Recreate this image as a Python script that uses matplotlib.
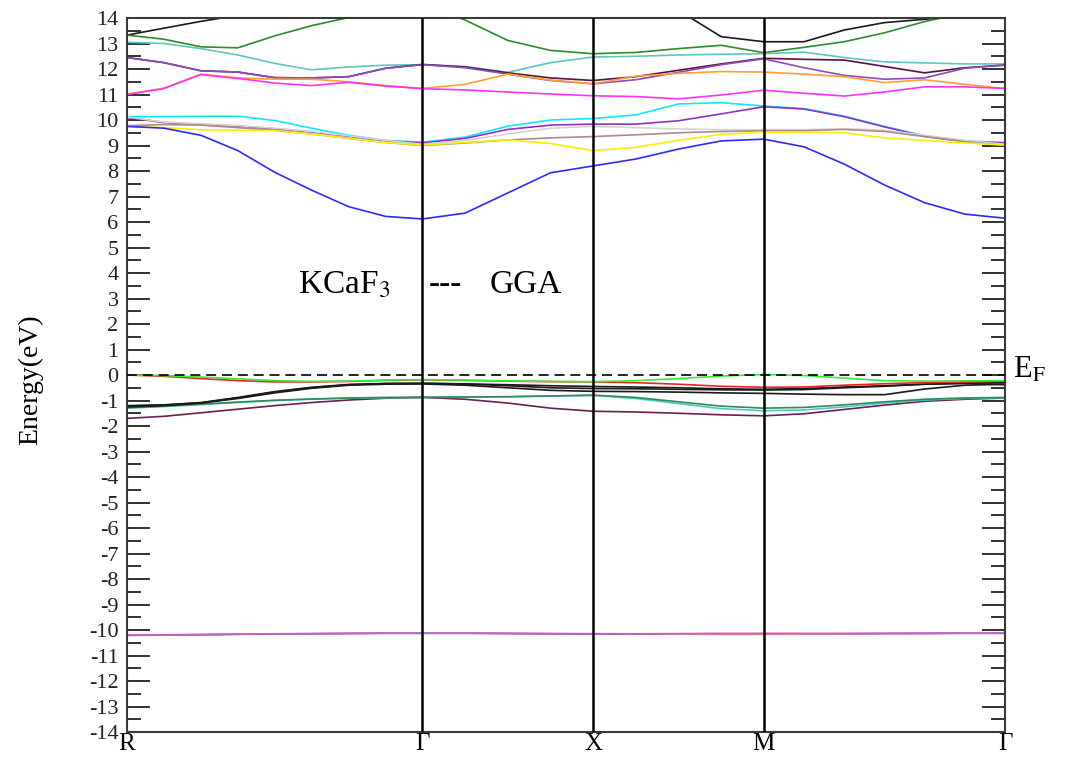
import matplotlib
matplotlib.use("Agg")
import matplotlib.pyplot as plt
from matplotlib.ticker import MultipleLocator

plt.rcParams["font.family"] = "serif"
plt.rcParams["font.serif"] = ["Liberation Serif", "DejaVu Serif"]
plt.rcParams["mathtext.fontset"] = "stix"

# high-symmetry path R-G-X-M-G (units of 2pi/a)
K_NODES = [0.0, 0.866, 1.366, 1.866, 2.573]
K_LABELS = ["R", "Γ", "X", "M", "Γ"]

# k sampling along the path
K = [0.0, 0.108, 0.217, 0.325, 0.433, 0.541, 0.650, 0.758, 0.866,
     0.991, 1.116, 1.241, 1.366,
     1.491, 1.616, 1.741, 1.866,
     1.984, 2.102, 2.220, 2.337, 2.455, 2.573]

# ── conduction bands (eV) ──────────────────────────────────────────────
blue = [9.75, 9.68, 9.4, 8.8, 7.95, 7.25, 6.6, 6.22, 6.12,
        6.35, 7.14, 7.93, 8.2,
        8.47, 8.86, 9.18, 9.25,
        8.95, 8.27, 7.45, 6.76, 6.31, 6.15]
yellow = [9.75, 9.7, 9.62, 9.6, 9.58, 9.45, 9.28, 9.12, 9.02,
          9.12, 9.22, 9.08, 8.8,
          8.93, 9.2, 9.44, 9.52,
          9.52, 9.5, 9.3, 9.2, 9.1, 9.02]
brown = [9.78, 9.82, 9.8, 9.7, 9.6, 9.45, 9.28, 9.12, 9.0,
         9.1, 9.22, 9.3, 9.35,
         9.42, 9.5, 9.55, 9.58,
         9.58, 9.63, 9.55, 9.35, 9.15, 9.0]
grey = [10.12, 9.92, 9.85, 9.78, 9.68, 9.55, 9.38, 9.2, 9.05,
        9.2, 9.45, 9.68, 9.75,
        9.7, 9.65, 9.62, 9.62,
        9.62, 9.66, 9.6, 9.4, 9.2, 9.05]
orchid = [10.1, 9.9, 9.83, 9.76, 9.66, 9.53, 9.36, 9.18, 9.1,
          9.28, 9.63, 9.8, 9.84,
          9.84, 9.97, 10.24, 10.52,
          10.43, 10.13, 9.73, 9.36, 9.16, 9.1]
cyan = [10.13, 10.13, 10.15, 10.15, 9.98, 9.68, 9.4, 9.2, 9.13,
        9.33, 9.76, 10.0, 10.06,
        10.2, 10.63, 10.68, 10.55,
        10.45, 10.15, 9.75, 9.38, 9.18, 9.12]
orange = [11.02, 11.25, 11.8, 11.65, 11.6, 11.6, 11.5, 11.35, 11.24,
          11.4, 11.8, 11.57, 11.42,
          11.72, 11.83, 11.9, 11.88,
          11.8, 11.7, 11.47, 11.58, 11.4, 11.23]
magenta = [11.0, 11.23, 11.78, 11.63, 11.45, 11.35, 11.48, 11.33, 11.23,
           11.18, 11.1, 11.02, 10.95,
           10.92, 10.83, 10.98, 11.17,
           11.05, 10.94, 11.1, 11.3, 11.3, 11.24]
maroon = [12.45, 12.25, 11.93, 11.88, 11.66, 11.65, 11.7, 12.03, 12.18,
          12.08, 11.85, 11.65, 11.55,
          11.7, 11.95, 12.2, 12.42,
          12.38, 12.35, 12.1, 11.85, 12.05, 12.15]
violet = [12.45, 12.25, 11.93, 11.88, 11.66, 11.65, 11.7, 12.03, 12.17,
          12.05, 11.8, 11.55, 11.42,
          11.58, 11.87, 12.17, 12.4,
          12.05, 11.75, 11.6, 11.65, 12.03, 12.16]
teal = [13.05, 13.0, 12.8, 12.55, 12.22, 11.97, 12.08, 12.15, 12.17,
        12.1, 11.87, 12.25, 12.47,
        12.5, 12.55, 12.58, 12.6,
        12.66, 12.45, 12.28, 12.24, 12.2, 12.2]
green = [13.33, 13.17, 12.87, 12.83, 13.3, 13.7, 14.02, 14.3, 14.55,
         13.92, 13.12, 12.73, 12.6,
         12.65, 12.8, 12.93, 12.64,
         12.85, 13.07, 13.42, 13.86, 14.2, 14.4]
black_c = [13.33, 13.6, 13.87, 14.1, 14.3, 14.5, 14.6, 14.7, 14.75,
           14.8, 14.85, 14.9, 14.9,
           14.7, 14.3, 13.27, 13.07,
           13.07, 13.53, 13.82, 13.95, 14.1, 14.2]

# ── valence bands, F-2p (eV) ───────────────────────────────────────────
lime = [0.0, -0.02, -0.08, -0.15, -0.22, -0.25, -0.24, -0.2, -0.18,
        -0.2, -0.23, -0.25, -0.26,
        -0.22, -0.14, -0.04, 0.02,
        -0.02, -0.12, -0.22, -0.24, -0.23, -0.22]
red = [0.0, -0.05, -0.14, -0.22, -0.27, -0.27, -0.25, -0.21, -0.19,
       -0.21, -0.24, -0.26, -0.27,
       -0.3, -0.36, -0.44, -0.48,
       -0.47, -0.4, -0.34, -0.3, -0.27, -0.24]
black_a = [-1.2, -1.17, -1.08, -0.88, -0.65, -0.48, -0.37, -0.33, -0.32,
           -0.35, -0.42, -0.5, -0.53,
           -0.54, -0.56, -0.58, -0.59,
           -0.57, -0.5, -0.44, -0.36, -0.33, -0.38]
black_b = [-1.25, -1.2, -1.1, -0.92, -0.7, -0.52, -0.4, -0.36, -0.35,
           -0.4, -0.5, -0.6, -0.64,
           -0.65, -0.67, -0.7, -0.72,
           -0.75, -0.77, -0.77, -0.55, -0.4, -0.36]
black_v = [-1.22, -1.18, -1.09, -0.9, -0.67, -0.5, -0.38, -0.34, -0.33,
           -0.35, -0.38, -0.42, -0.45,
           -0.47, -0.5, -0.54, -0.56,
           -0.53, -0.47, -0.42, -0.36, -0.32, -0.3]
seagreen = [-1.28, -1.22, -1.14, -1.06, -0.99, -0.94, -0.9, -0.88, -0.87,
            -0.86, -0.85, -0.82, -0.79,
            -0.88, -1.05, -1.22, -1.3,
            -1.27, -1.17, -1.05, -0.95, -0.9, -0.88]
teal_v = [-1.3, -1.24, -1.16, -1.08, -1.0, -0.95, -0.91, -0.89, -0.88,
          -0.87, -0.85, -0.83, -0.8,
          -0.92, -1.12, -1.32, -1.4,
          -1.37, -1.25, -1.1, -0.98, -0.92, -0.89]
plum = [-1.7, -1.62, -1.48, -1.34, -1.2, -1.08, -0.98, -0.91, -0.88,
        -0.95, -1.1, -1.3, -1.42,
        -1.45, -1.5, -1.56, -1.6,
        -1.52, -1.35, -1.18, -1.03, -0.95, -0.9]

# ── K-3p semicore bands (eV) ───────────────────────────────────────────
k3p_a = [-10.21, -10.2, -10.19, -10.17, -10.16, -10.15, -10.14, -10.13, -10.13,
         -10.13, -10.14, -10.15, -10.16,
         -10.16, -10.15, -10.15, -10.15,
         -10.15, -10.15, -10.14, -10.14, -10.13, -10.13]
k3p_b = [-10.2, -10.19, -10.18, -10.16, -10.15, -10.14, -10.13, -10.12, -10.12,
         -10.12, -10.13, -10.14, -10.15,
         -10.15, -10.14, -10.13, -10.13,
         -10.13, -10.13, -10.13, -10.12, -10.12, -10.12]
k3p_c = [-10.2, -10.19, -10.17, -10.16, -10.15, -10.14, -10.13, -10.12, -10.12,
         -10.12, -10.13, -10.14, -10.14,
         -10.15, -10.16, -10.17, -10.17,
         -10.16, -10.15, -10.14, -10.13, -10.12, -10.12]

BANDS = [
    (black_c, "#1a1a1a"), (green, "#2e8b2e"), (teal, "#5cc8c0"),
    (maroon, "#5a1040"), (violet, "#8a4cc0"), (orange, "#ffa030"),
    (magenta, "#ff30ff"), (cyan, "#10e8ff"), (orchid, "#9030c8"),
    (grey, "#d4d4d4"), (brown, "#b08a8a"), (yellow, "#f8f000"),
    (blue, "#2b2bff"),
    (plum, "#6b1e50"), (teal_v, "#50c8c8"), (seagreen, "#2e8b57"),
    (black_b, "#1a1a1a"), (black_a, "#1a1a1a"), (black_v, "#1a1a1a"),
    (red, "#ee2222"), (lime, "#33ee33"),
    (k3p_a, "#6a3fd0"), (k3p_c, "#f08080"), (k3p_b, "#c060c8"),
]

fig = plt.figure(figsize=(10.65, 7.6), dpi=100)
ax = fig.add_axes([0.1192, 0.0368, 0.8245, 0.9395])

for vals, col in BANDS:
    ax.plot(K, vals, color=col, linewidth=1.2, zorder=2)

for kn in K_NODES[1:-1]:
    ax.axvline(kn, color="black", linewidth=1.8, zorder=3)
ax.axhline(0, color="black", linewidth=1.2, linestyle=(0, (6, 3.5)), zorder=3)

ax.set_xlim(K_NODES[0], K_NODES[-1])
ax.set_ylim(-14, 14)
ax.set_xticks(K_NODES)
ax.set_xticklabels(K_LABELS, fontsize=18)
ax.tick_params(axis="x", length=0, pad=1, colors="black")

ax.set_yticks(range(-14, 15))
ax.set_yticklabels([str(v) for v in range(-14, 15)], fontsize=16)
ax.yaxis.set_minor_locator(MultipleLocator(0.5))
ax.tick_params(axis="y", which="major", direction="in", length=16.5,
               width=1.3, right=True, pad=6, colors="#222222")
ax.tick_params(axis="y", which="minor", direction="in", length=10,
               width=1.3, right=True, colors="#222222")
for sp in ax.spines.values():
    sp.set_color("#3a3a3a")
    sp.set_linewidth(1.5)

# annotations
def kx(px):
    return K_NODES[-1] * (px - 127) / 878.0

ax.text(kx(298), 3.2, "KCaF$_3$", fontsize=24, ha="left", va="baseline")
ax.text(kx(445), 3.2, "---", fontsize=24, ha="center", va="baseline")
ax.text(kx(562), 3.2, "GGA", fontsize=24, ha="right", va="baseline")
ax.text(kx(1013), -0.12, "E$_\\mathrm{F}$", fontsize=22, ha="left",
        va="baseline", clip_on=False)

fig.text(0.029, 0.5, "Energy(eV)", rotation=90, fontsize=20,
         ha="center", va="center")

fig.savefig("out.png", dpi=100)
